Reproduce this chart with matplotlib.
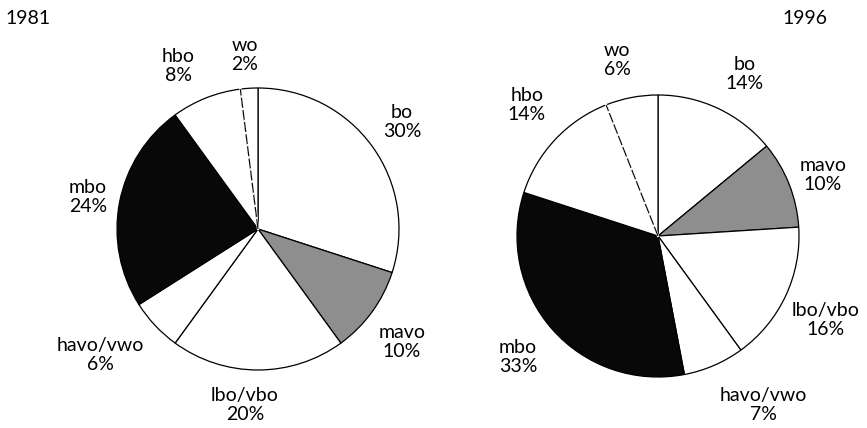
import matplotlib.pyplot as plt
import numpy as np

# data, clockwise from 12 o'clock
categories = ['bo', 'mavo', 'lbo/vbo', 'havo/vwo', 'mbo', 'hbo', 'wo']
share_1981 = [30, 10, 20, 6, 24, 8, 2]
share_1996 = [14, 10, 16, 7, 33, 14, 6]
years = ['1981', '1996']

fills = ['white', '#8e8e8e', 'white', 'white', '#080808', 'white', 'white']

# label spots in pixel coords (x, y from top)
lab_1981 = {'bo': (402, 122), 'mavo': (402, 342), 'lbo/vbo': (245, 405),
            'havo/vwo': (100, 355), 'mbo': (88, 197), 'hbo': (178, 66), 'wo': (245, 55)}
lab_1996 = {'bo': (745, 74), 'mavo': (823, 175), 'lbo/vbo': (826, 320),
            'havo/vwo': (763, 405), 'mbo': (518, 357), 'hbo': (527, 105), 'wo': (617, 60)}

W, H = 867, 428
plt.rcParams['font.family'] = ['Lato', 'DejaVu Sans']

fig = plt.figure(figsize=(W / 100, H / 100), dpi=100)
ax = fig.add_axes([0, 0, 1, 1])

def draw_pie(vals, cx, cy, r, labels):
    wedges, _ = ax.pie(vals, colors=fills, startangle=90, counterclock=False,
                       center=(cx, H - cy), radius=r,
                       wedgeprops=dict(edgecolor='black', linewidth=0.9))
    # dashed boundary between hbo and wo
    ang = np.deg2rad(90 + 360 * vals[-1] / sum(vals))
    xs = [cx, cx + r * np.cos(ang)]
    ys = [H - cy, H - cy + r * np.sin(ang)]
    ax.plot(xs, ys, color='white', lw=1.6, zorder=5)
    ax.plot(xs, ys, color='black', lw=0.8, ls=(0, (9, 2)), zorder=6)
    for cat, v in zip(categories, vals):
        x, y = labels[cat]
        ax.text(x, H - y, f'{cat}\n{v}%', ha='center', va='center',
                fontsize=14, linespacing=1.2)

draw_pie(share_1981, 258, 229, 141, lab_1981)
draw_pie(share_1996, 658, 236, 141, lab_1996)

ax.text(5, H - 18, years[0], ha='left', va='center', fontsize=14)
ax.text(827, H - 18, years[1], ha='right', va='center', fontsize=14)

ax.set_xlim(0, W)
ax.set_ylim(0, H)
ax.set_aspect('equal')
ax.axis('off')

plt.savefig('out.png', dpi=100)
